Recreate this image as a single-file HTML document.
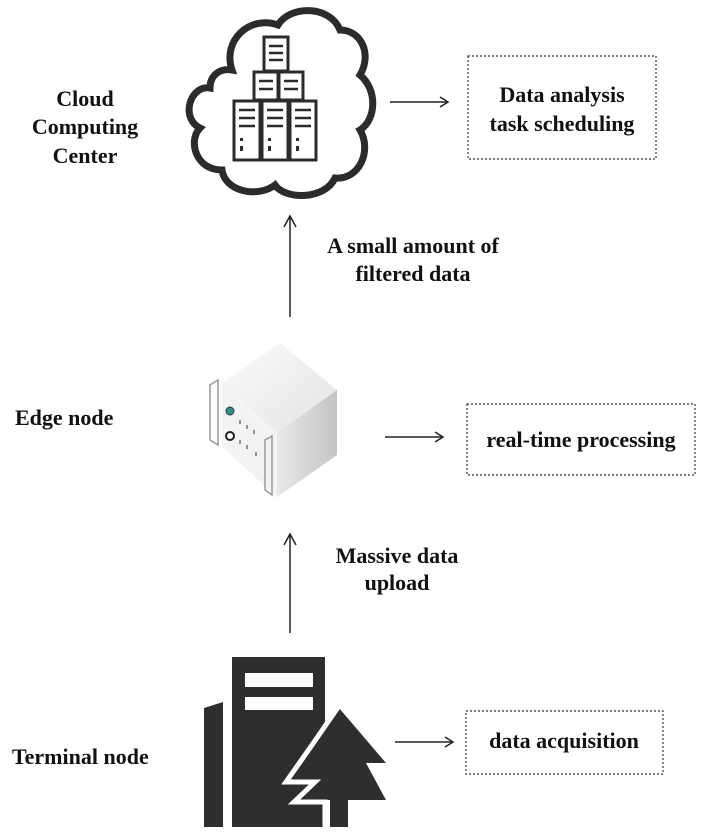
<!DOCTYPE html>
<html><head><meta charset="utf-8"><style>
html,body{margin:0;padding:0;background:#fff;}
svg{display:block;}
text{font-family:"Liberation Serif",serif;font-weight:bold;font-size:22px;fill:#111;}
</style></head><body>
<svg width="705" height="839" viewBox="0 0 705 839" xmlns="http://www.w3.org/2000/svg">
<defs>
<linearGradient id="top" x1="0" y1="0" x2="1" y2="1"><stop offset="0" stop-color="#fafafa"/><stop offset="1" stop-color="#e4e4e4"/></linearGradient>
<linearGradient id="right" x1="0" y1="0" x2="1" y2="0"><stop offset="0" stop-color="#e8e8e8"/><stop offset="1" stop-color="#c4c4c4"/></linearGradient>
</defs>
<path d="M232,70 C222,40 250,15 278,25 C290,5 330,5 340,30 C362,30 372,55 360,75 C378,90 376,120 360,130 C372,150 360,180 335,178 C325,200 285,200 275,185 C258,198 225,192 222,170 C195,170 188,140 200,128 C180,118 190,85 210,88 C210,75 220,68 232,70 Z" fill="#fff" stroke="#2b2b2b" stroke-width="7"/>
<g fill="#fff" stroke="#2b2b2b" stroke-width="3">
<rect x="264" y="37" width="24" height="34"/>
<rect x="254" y="72" width="24" height="28"/><rect x="279" y="72" width="24" height="28"/>
<rect x="234" y="101" width="26" height="59"/><rect x="262" y="101" width="26" height="59"/><rect x="290" y="101" width="26" height="59"/>
</g>
<g stroke="#2b2b2b" stroke-width="2.5">
<line x1="269" y1="46" x2="283" y2="46"/><line x1="269" y1="53" x2="283" y2="53"/><line x1="269" y1="60" x2="283" y2="60"/>
<line x1="259" y1="81" x2="273" y2="81"/><line x1="259" y1="89" x2="273" y2="89"/>
<line x1="284" y1="81" x2="298" y2="81"/><line x1="284" y1="89" x2="298" y2="89"/>
<line x1="239" y1="110" x2="255" y2="110"/><line x1="239" y1="118" x2="255" y2="118"/><line x1="239" y1="126" x2="255" y2="126"/>
<line x1="267" y1="110" x2="283" y2="110"/><line x1="267" y1="118" x2="283" y2="118"/><line x1="267" y1="126" x2="283" y2="126"/>
<line x1="295" y1="110" x2="311" y2="110"/><line x1="295" y1="118" x2="311" y2="118"/><line x1="295" y1="126" x2="311" y2="126"/>
</g>
<g fill="#2b2b2b"><rect x="240" y="138" width="3" height="3"/><rect x="240" y="146" width="3" height="5"/><rect x="268" y="138" width="3" height="3"/><rect x="268" y="146" width="3" height="5"/><rect x="296" y="138" width="3" height="3"/><rect x="296" y="146" width="3" height="5"/></g>

<polygon points="222,383 280,343 337,390 277,433" fill="url(#top)"/>
<polygon points="277,433 337,390 337,455 277,497" fill="url(#right)"/>
<polygon points="222,383 277,433 277,497 222,447" fill="#f3f3f3"/>
<g fill="none" stroke="#999" stroke-width="1.5">
<path d="M210,385 L218,380 L218,445 L210,440 Z"/>
<path d="M265,440 L272,436 L272,495 L265,490 Z"/>
</g>
<circle cx="230" cy="411" r="4" fill="#3a8a84" stroke="#244" stroke-width="1"/>
<circle cx="230" cy="436" r="4" fill="#fff" stroke="#222" stroke-width="2"/>
<g stroke="#555" stroke-width="1.2"><line x1="240" y1="420" x2="240" y2="424"/><line x1="247" y1="425" x2="247" y2="429"/><line x1="254" y1="430" x2="254" y2="434"/><line x1="240" y1="440" x2="240" y2="444"/><line x1="247" y1="445" x2="247" y2="449"/><line x1="256" y1="452" x2="256" y2="456"/></g>

<g fill="#2e2e2e">
<polygon points="204,708 223,702 223,827 204,827"/>
<rect x="232" y="657" width="93" height="170"/>
<polygon points="339,708 386,763 366,763 386,800 348,800 348,827 330,827 330,800 297,800 318,780 290,780 315,745"/>
</g>
<g fill="#fff"><rect x="245" y="673" width="68" height="14"/><rect x="245" y="697" width="68" height="13"/></g>
<polyline points="339,706 312,745 286,782 315,782 294,802 325,802 325,830" fill="none" stroke="#fff" stroke-width="5"/>

<g stroke="#222" stroke-width="1.5" fill="none">
<line x1="390" y1="102" x2="448" y2="102"/><polyline points="440,97 448,102 440,107"/>
<line x1="385" y1="437" x2="443" y2="437"/><polyline points="435,432 443,437 435,442"/>
<line x1="395" y1="742" x2="453" y2="742"/><polyline points="445,737 453,742 445,747"/>
<line x1="290" y1="317" x2="290" y2="216"/><polyline points="284,227 290,216 296,227"/>
<line x1="290" y1="633" x2="290" y2="534"/><polyline points="284,545 290,534 296,545"/>
</g>
<g fill="none" stroke="#333" stroke-width="1.2" stroke-dasharray="2,2">
<rect x="468" y="56" width="188" height="103"/>
<rect x="467" y="404" width="228" height="71"/>
<rect x="466" y="711" width="197" height="63"/>
</g>
<text x="85" y="106" text-anchor="middle">Cloud</text>
<text x="85" y="134" text-anchor="middle">Computing</text>
<text x="85" y="163" text-anchor="middle">Center</text>
<text x="562" y="102" text-anchor="middle">Data analysis</text>
<text x="562" y="131" text-anchor="middle">task scheduling</text>
<text x="413" y="253" text-anchor="middle">A small amount of</text>
<text x="413" y="281" text-anchor="middle">filtered data</text>
<text x="15" y="425">Edge node</text>
<text x="581" y="447" text-anchor="middle">real-time processing</text>
<text x="397" y="563" text-anchor="middle">Massive data</text>
<text x="397" y="590" text-anchor="middle">upload</text>
<text x="12" y="764">Terminal node</text>
<text x="564" y="748" text-anchor="middle">data acquisition</text>
</svg>
</body></html>
